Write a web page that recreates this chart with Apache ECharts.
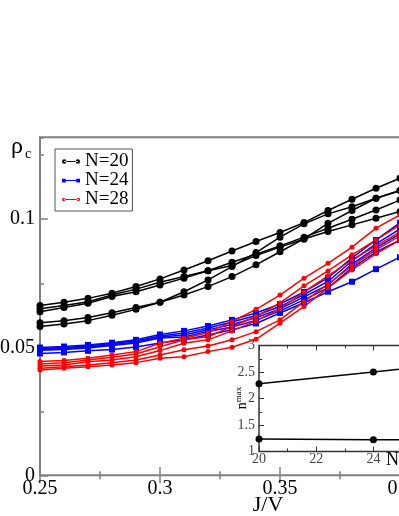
<!DOCTYPE html>
<html>
<head>
<meta charset="utf-8">
<script src="https://cdn.jsdelivr.net/npm/echarts@6/dist/echarts.min.js"></script>
<style>html,body{margin:0;padding:0;background:#fff;}#c{width:399px;height:516px;}</style>
</head>
<body>
<div id="c"></div>
<script>
// J/V values (x axis)
const jv = [0.25,0.26,0.27,0.28,0.29,0.30,0.31,0.32,0.33,0.34,0.35,0.36,0.37,0.38,0.39,0.40];
// N=20 curves (rho_c)
const n20_a = [0.0663,0.0676,0.0691,0.0711,0.0737,0.0767,0.0802,0.0838,0.0876,0.0913,0.0948,0.0987,0.1034,0.1078,0.1121,0.1160];
const n20_b = [0.0650,0.0663,0.0678,0.0704,0.0727,0.0754,0.0776,0.0799,0.0832,0.0863,0.0896,0.0930,0.0965,0.1000,0.1036,0.1075];
const n20_c = [0.0639,0.0655,0.0672,0.0698,0.0717,0.0743,0.0770,0.0799,0.0819,0.0858,0.0891,0.0923,0.0952,0.0978,0.1004,0.1030];
const n20_d = [0.0596,0.0604,0.0616,0.0635,0.0655,0.0676,0.0717,0.0763,0.0815,0.0870,0.0930,0.0982,0.1021,0.1049,0.1082,0.1112];
const n20_e = [0.0581,0.0591,0.0604,0.0625,0.0648,0.0676,0.0704,0.0737,0.0776,0.0822,0.0873,0.0923,0.0984,0.1034,0.1082,0.1112];
// N=24 curves
const n24_a = [0.0499,0.0503,0.0509,0.0518,0.0529,0.0550,0.0564,0.0583,0.0607,0.0634,0.0669,0.0716,0.0771,0.0849,0.0919,0.0986];
const n24_b = [0.0495,0.0499,0.0505,0.0515,0.0525,0.0544,0.0556,0.0575,0.0599,0.0624,0.0659,0.0706,0.0757,0.0837,0.0904,0.0962];
const n24_c = [0.0491,0.0495,0.0501,0.0511,0.0521,0.0540,0.0548,0.0568,0.0589,0.0615,0.0650,0.0697,0.0743,0.0825,0.0888,0.0943];
const n24_d = [0.0488,0.0491,0.0497,0.0507,0.0517,0.0536,0.0540,0.0562,0.0579,0.0605,0.0642,0.0685,0.0732,0.0810,0.0872,0.0919];
const n24_e = [0.0476,0.0480,0.0486,0.0491,0.0501,0.0517,0.0529,0.0548,0.0568,0.0593,0.0634,0.0674,0.0717,0.0756,0.0805,0.0852];
// N=28 curves
const n28_a = [0.0444,0.0448,0.0457,0.0470,0.0483,0.0516,0.0535,0.0557,0.0600,0.0648,0.0704,0.0770,0.0828,0.0891,0.0965,0.1017];
const n28_b = [0.0435,0.0440,0.0450,0.0461,0.0474,0.0502,0.0529,0.0541,0.0581,0.0620,0.0673,0.0740,0.0798,0.0861,0.0919,0.0978];
const n28_c = [0.0427,0.0431,0.0443,0.0450,0.0463,0.0487,0.0516,0.0529,0.0564,0.0603,0.0650,0.0716,0.0779,0.0841,0.0896,0.0950];
const n28_d = [0.0418,0.0424,0.0431,0.0440,0.0450,0.0470,0.0490,0.0505,0.0529,0.0561,0.0607,0.0678,0.0747,0.0818,0.0880,0.0935];
const n28_e = [0.0411,0.0418,0.0424,0.0431,0.0440,0.0457,0.0463,0.0483,0.0500,0.0531,0.0594,0.0659,0.0732,0.0802,0.0865,0.0919];
// inset: N vs n^max
const insetN = [20, 24, 28];
const nmaxHigh = [2.28, 2.50, 2.74];
const nmaxLow = [1.236, 1.223, 1.225];

const chart = echarts.init(document.getElementById('c'), null, {renderer:'canvas'});
const serif = 'Liberation Serif';
const gray = '#808080';

function pts(xs, ys){ return xs.map((x,i)=>[x, ys[i]]); }
function mainSeries(name, arr, color, symbol, size){
  return {
    type:'line', name:name, data:pts(jv, arr), xAxisIndex:0, yAxisIndex:0,
    symbol:symbol, symbolSize:size, showSymbol:true,
    lineStyle:{color:color, width:1.5}, itemStyle:{color:color},
    emphasis:{disabled:true}, z:3
  };
}
const series = [];
[n20_a,n20_b,n20_c,n20_d,n20_e].forEach(a=>series.push(mainSeries('N=20', a, '#000000', 'circle', 7)));
[n24_a,n24_b,n24_c,n24_d,n24_e].forEach(a=>series.push(mainSeries('N=24', a, '#0000ff', 'rect', 6)));
[n28_a,n28_b,n28_c,n28_d,n28_e].forEach(a=>series.push(mainSeries('N=28', a, '#ff0000', 'circle', 5)));
[nmaxHigh, nmaxLow].forEach(a=>series.push({
  type:'line', data:pts(insetN, a), xAxisIndex:2, yAxisIndex:2,
  symbol:'circle', symbolSize:7, lineStyle:{color:'#000', width:1.5}, itemStyle:{color:'#000'},
  emphasis:{disabled:true}, z:12
}));

const iconBlack = 'path://M0,4a3,3 0 1,0 6,0a3,3 0 1,0 -6,0Z M18,4a3,3 0 1,0 6,0a3,3 0 1,0 -6,0Z M3,3.3L21,3.3L21,4.7L3,4.7Z';
const iconBlue = 'path://M0,1.5h5v5h-5Z M19,1.5h5v5h-5Z M3,3.3h18v1.4h-18Z';
const iconRed = 'path://M1,4a2,2 0 1,0 4,0a2,2 0 1,0 -4,0Z M19,4a2,2 0 1,0 4,0a2,2 0 1,0 -4,0Z M3,3.4h18v1.2h-18Z';

const option = {
  animation:false,
  backgroundColor:'#fff',
  grid:[
    {left:40, top:137.3, width:480, height:338, show:true, borderColor:gray, borderWidth:2, backgroundColor:'transparent', z:0,
     containLabel:false, outerBoundsMode:'none'},
    {left:259, top:345.5, width:228.8, height:106, show:true, borderColor:'#333', borderWidth:1.5, backgroundColor:'#fff', z:10,
     containLabel:false, outerBoundsMode:'none'}
  ],
  xAxis:[
    {gridIndex:0, type:'value', min:0.25, max:0.45, interval:0.05, position:'bottom',
     axisLine:{show:false}, splitLine:{show:false},
     axisTick:{show:true, inside:true, length:8, lineStyle:{color:gray, width:1.5}},
     minorTick:{show:true, splitNumber:2, length:4, lineStyle:{color:gray, width:1.5}},
     axisLabel:{fontFamily:serif, fontSize:20, color:'#000', margin:3, showMaxLabel:false, hideOverlap:false}},
    {gridIndex:0, type:'value', min:0.25, max:0.45, interval:0.05, position:'top',
     axisLine:{show:false}, splitLine:{show:false},
     axisTick:{show:true, inside:true, length:8, lineStyle:{color:gray, width:1.5}},
     minorTick:{show:true, splitNumber:2, length:4, lineStyle:{color:gray, width:1.5}},
     axisLabel:{show:false}},
    {gridIndex:1, type:'value', min:20, max:28, interval:2, position:'bottom', z:11,
     axisLine:{show:false}, splitLine:{show:false},
     axisTick:{show:true, inside:true, length:5, lineStyle:{color:'#333', width:1}},
     minorTick:{show:true, splitNumber:2, length:3, lineStyle:{color:'#333', width:1}},
     axisLabel:{fontFamily:serif, fontSize:14, color:'#444', margin:1, showMaxLabel:false}},
    {gridIndex:1, type:'value', min:20, max:28, interval:2, position:'top', z:11,
     axisLine:{show:false}, splitLine:{show:false},
     axisTick:{show:true, inside:true, length:5, lineStyle:{color:'#333', width:1}},
     minorTick:{show:true, splitNumber:2, length:3, lineStyle:{color:'#333', width:1}},
     axisLabel:{show:false}}
  ],
  yAxis:[
    {gridIndex:0, type:'value', min:0, max:0.132, interval:0.05, position:'left',
     axisLine:{show:false}, splitLine:{show:false},
     axisTick:{show:true, inside:true, length:8, lineStyle:{color:gray, width:1.5}},
     axisLabel:{fontFamily:serif, fontSize:20, color:'#000', margin:5, showMaxLabel:false,
       formatter:function(v){ const r = Math.round(v/0.05); return Math.abs(v - r*0.05) < 1e-9 ? String(+v.toFixed(2)) : ''; }}},
    {gridIndex:0, type:'value', min:0, max:0.132, interval:0.025, position:'left',
     axisLine:{show:false}, splitLine:{show:false},
     axisTick:{show:true, inside:true, length:4, lineStyle:{color:gray, width:1.5}},
     axisLabel:{show:false}},
    {gridIndex:1, type:'value', min:1, max:3, interval:0.5, position:'left', z:11,
     axisLine:{show:false}, splitLine:{show:false},
     axisTick:{show:true, inside:true, length:5, lineStyle:{color:'#333', width:1}},
     minorTick:{show:true, splitNumber:2, length:3, lineStyle:{color:'#333', width:1}},
     axisLabel:{fontFamily:serif, fontSize:14, color:'#444', margin:4}}
  ],
  legend:{
    left:55, top:149, orient:'vertical', selectedMode:false,
    backgroundColor:'#fff', borderColor:'#555', borderWidth:1,
    padding:[3,4,2,7], itemGap:0, itemWidth:18, itemHeight:6, itemTextGap:4,
    textStyle:{fontFamily:serif, fontSize:19, color:'#000', lineHeight:18},
    data:[{name:'N=20', icon:iconBlack},{name:'N=24', icon:iconBlue},{name:'N=28', icon:iconRed}]
  },
  graphic:[
    {type:'text', left:11, top:135, style:{text:'ρ', font:'24px "Liberation Serif"', fill:'#000'}},
    {type:'text', left:25, top:147, style:{text:'c', font:'14px "Liberation Serif"', fill:'#000'}},
    {type:'text', x:268, y:505, style:{text:'J/V', font:'22px "Liberation Serif"', fill:'#000', align:'center', verticalAlign:'middle'}},
    {type:'text', x:386, y:460, z:20, style:{text:'N', font:'18px "Liberation Serif"', fill:'#000', align:'left', verticalAlign:'middle'}},
    {type:'text', x:242, y:398, rotation:Math.PI/2, z:20,
     style:{text:'{n|n}{s|max}', align:'center', verticalAlign:'middle',
       rich:{n:{font:'14px "Liberation Serif"', fill:'#000'}, s:{font:'9px "Liberation Serif"', fill:'#000', padding:[0,0,7,0]}}}}
  ],
  series:series
};
chart.setOption(option);
</script>
</body>
</html>
